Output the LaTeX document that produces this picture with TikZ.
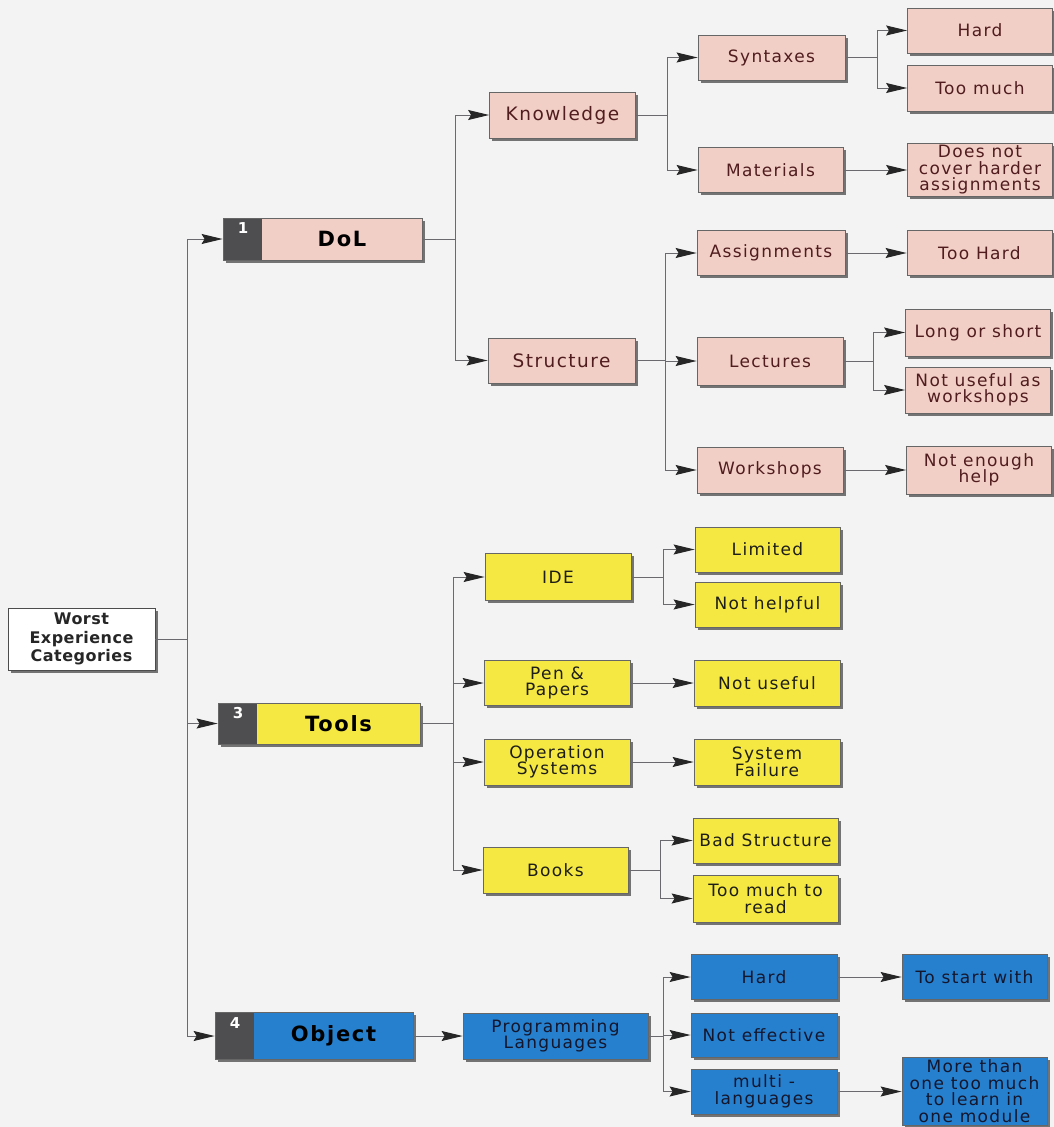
\documentclass[tikz,border=0pt]{standalone}
\usepackage{fontspec}
\setmainfont{DejaVu Sans}
\newfontfamily\boxfont{DejaVu Sans}[LetterSpace=8]
\newfontfamily\rootfont{DejaVu Sans}[LetterSpace=3]
\usetikzlibrary{arrows.meta,shadows}

\definecolor{bgcol}{RGB}{243,243,244}
\definecolor{pinkfill}{RGB}{242,207,198}
\definecolor{pinktext}{RGB}{80,28,30}
\definecolor{yelfill}{RGB}{245,232,66}
\definecolor{yeltext}{RGB}{30,30,25}
\definecolor{bluefill}{RGB}{38,128,205}
\definecolor{bluetext}{RGB}{20,22,45}
\definecolor{numgrey}{RGB}{78,78,80}
\definecolor{linecol}{RGB}{105,105,110}

\tikzset{
  base/.style={rectangle, draw=black!60, line width=0.8pt, inner sep=2pt, align=center,
    font=\boxfont\fontsize{17}{16.5}\selectfont,
    drop shadow={shadow xshift=2.5pt, shadow yshift=-2.5pt, shadow scale=1, fill=black!60, opacity=0.9}},
  sz/.style 2 args={minimum width=#1pt, minimum height=#2pt},
  pinkbox/.style={base, fill=pinkfill, text=pinktext},
  yelbox/.style={base, fill=yelfill, text=yeltext},
  bluebox/.style={base, fill=bluefill, text=bluetext},
  bigtext/.style={font=\boxfont\fontsize{18.5}{19}\selectfont},
  head/.style={base, font=\boxfont\bfseries\fontsize{21}{22}\selectfont, text=black,
    path picture={\fill[numgrey] (path picture bounding box.north west) rectangle
      ([xshift=39pt]path picture bounding box.south west);}},
  numlab/.style={anchor=north west, xshift=13pt, yshift=-3pt, inner sep=2pt, text=white,
    font=\rootfont\bfseries\fontsize{15}{15}\selectfont},
  rootbox/.style={base, fill=white, draw=black!70, text=black!85,
    font=\rootfont\bfseries\fontsize{16}{18.5}\selectfont},
  link/.style={draw=linecol, line width=1pt},
  arr/.style={link, -{Stealth[length=21pt, width=10pt, inset=3pt, color=black!85]}}
}

\begin{document}
\begin{tikzpicture}[x=1pt, y=-1pt]
  \fill[bgcol] (0,0) rectangle (1054,1127);
  \useasboundingbox (0,0) rectangle (1054,1127);

  % root
  \node[rootbox, sz={147}{62}] (root) at (81.5,639) {Worst\\Experience\\Categories};

  % category headers
  \node[head, fill=pinkfill, sz={199}{42},
        label={[numlab]north west:1}] (dol) at (322.5,239) {\hspace*{39pt}DoL};
  \node[head, fill=yelfill, sz={202}{41},
        label={[numlab]north west:3}] (tools) at (319,723.5) {\hspace*{39pt}Tools};
  \node[head, fill=bluefill, sz={198}{47},
        label={[numlab]north west:4}] (object) at (314,1036) {\hspace*{39pt}Object};

  % DoL branch
  \node[pinkbox, bigtext, sz={146}{46}] (know) at (562.5,115) {Knowledge};
  \node[pinkbox, bigtext, sz={147}{45}] (struct) at (561.5,360.5) {Structure};

  \node[pinkbox, sz={147}{45}] (syn) at (771.5,57.5) {Syntaxes};
  \node[pinkbox, sz={145}{45}] (mat) at (770.5,170) {Materials};
  \node[pinkbox, sz={148}{45}] (assign) at (771,253) {Assignments};
  \node[pinkbox, sz={146}{48}] (lect) at (770,361) {Lectures};
  \node[pinkbox, sz={146}{46}] (work) at (770,470) {Workshops};

  \node[pinkbox, sz={145}{45}] (hard) at (980,30.5) {Hard};
  \node[pinkbox, sz={145}{46}] (toomuch) at (980,88) {Too much};
  \node[pinkbox, sz={145}{52}] (notcover) at (980,170) {Does not\\cover harder\\assignments};
  \node[pinkbox, sz={145}{45}] (toohard) at (979.5,253) {Too Hard};
  \node[pinkbox, sz={145}{47}] (longshort) at (978,332.5) {Long or short};
  \node[pinkbox, sz={145}{46}] (notuseful2) at (978,390) {Not useful as\\workshops};
  \node[pinkbox, sz={145}{48}] (notenough) at (979,470) {Not enough\\help};

  % Tools branch
  \node[yelbox, sz={146}{47}] (ide) at (558,577) {IDE};
  \node[yelbox, sz={146}{45}] (pen) at (557,683) {Pen \&\\Papers};
  \node[yelbox, sz={146}{46}] (ops) at (557,762) {Operation\\Systems};
  \node[yelbox, sz={145}{46}] (books) at (555.5,870) {Books};

  \node[yelbox, sz={145}{45}] (limited) at (767.5,549.5) {Limited};
  \node[yelbox, sz={145}{45}] (nothelp) at (767.5,604.5) {Not helpful};
  \node[yelbox, sz={146}{46}] (notuseful) at (767,683) {Not useful};
  \node[yelbox, sz={146}{46}] (sysfail) at (767,762) {System\\Failure};
  \node[yelbox, sz={145}{45}] (badstruct) at (765.5,840.5) {Bad Structure};
  \node[yelbox, sz={145}{47}] (readmuch) at (765.5,898.5) {Too much to\\read};

  % Object branch
  \node[bluebox, sz={185}{46}] (prog) at (555.5,1036) {Programming\\Languages};
  \node[bluebox, sz={146}{45}] (hardb) at (764,977) {Hard};
  \node[bluebox, sz={146}{44}] (noteff) at (764,1035) {Not effective};
  \node[bluebox, sz={146}{45}] (multi) at (764,1091.5) {multi -\\languages};
  \node[bluebox, sz={145}{45}] (start) at (974.5,977) {To start with};
  \node[bluebox, sz={145}{68}] (morethan) at (974.5,1091) {More than\\one too much\\to learn in\\one module};

  % connectors from the root
  \foreach \c in {dol,tools,object}
    \draw[arr] (root.east) -- ++(32,0) |- (\c.west);

  % DoL connectors
  \foreach \c in {know,struct}
    \draw[arr] (dol.east) -- ++(33,0) |- (\c.west);
  \foreach \c in {syn,mat}
    \draw[arr] (know.east) -- ++(32,0) |- (\c.west);
  \foreach \c in {assign,lect,work}
    \draw[arr] (struct.east) -- ++(30,0) |- (\c.west);
  \foreach \c in {hard,toomuch}
    \draw[arr] (syn.east) -- ++(32,0) |- (\c.west);
  \foreach \c in {longshort,notuseful2}
    \draw[arr] (lect.east) -- ++(30,0) |- (\c.west);
  \draw[arr] (mat.east) -- (mat.east -| notcover.west);
  \draw[arr] (assign.east) -- (assign.east -| toohard.west);
  \draw[arr] (work.east) -- (work.east -| notenough.west);

  % Tools connectors
  \foreach \c in {ide,pen,ops,books}
    \draw[arr] (tools.east) -- ++(33,0) |- (\c.west);
  \foreach \c in {limited,nothelp}
    \draw[arr] (ide.east) -- ++(32,0) |- (\c.west);
  \foreach \c in {badstruct,readmuch}
    \draw[arr] (books.east) -- ++(32,0) |- (\c.west);
  \draw[arr] (pen.east) -- (pen.east -| notuseful.west);
  \draw[arr] (ops.east) -- (ops.east -| sysfail.west);

  % Object connectors
  \draw[arr] (object.east) -- (object.east -| prog.west);
  \foreach \c in {hardb,noteff,multi}
    \draw[arr] (prog.east) -- ++(15,0) |- (\c.west);
  \draw[arr] (hardb.east) -- (hardb.east -| start.west);
  \draw[arr] (multi.east) -- (multi.east -| morethan.west);
\end{tikzpicture}
\end{document}
